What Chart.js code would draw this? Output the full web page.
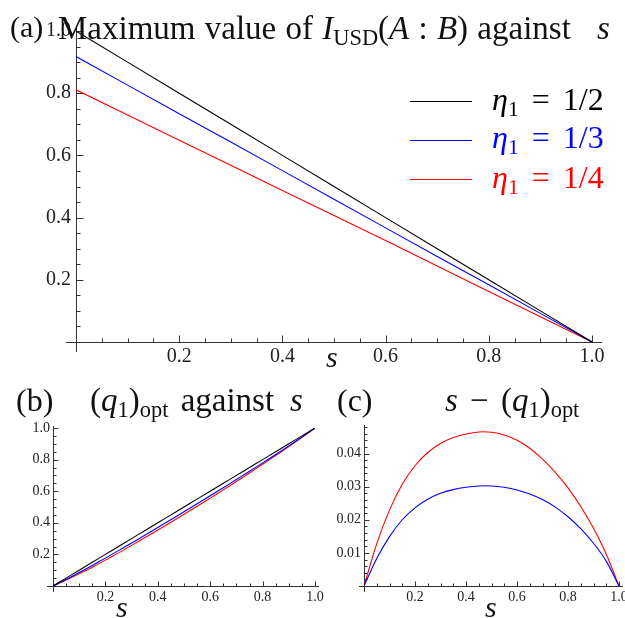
<!DOCTYPE html>
<html>
<head>
<meta charset="utf-8">
<script src="https://cdn.jsdelivr.net/npm/chart.js@4.4.1/dist/chart.umd.min.js"></script>
<style>
  html, body { margin: 0; padding: 0; background: #fff; }
  body { width: 625px; height: 618px; position: relative; overflow: hidden; font-family: "Liberation Serif", serif; color: #111; }
  canvas { position: absolute; }
  .txt { position: absolute; line-height: 1; white-space: nowrap; }
  .txt i { font-style: italic; }
  .txt sub { font-size: 0.68em; vertical-align: -0.28em; line-height: 0; }
  .leg-line { position: absolute; height: 0; border-top: 1px solid; width: 62px; }
</style>
</head>
<body>
<canvas id="chartA" width="625" height="375" style="left:0px;top:0px"></canvas>
<canvas id="chartB" width="335" height="243" style="left:0px;top:375px"></canvas>
<canvas id="chartC" width="320" height="243" style="left:320px;top:375px"></canvas>

<div class="txt" style="left:10px;top:12px;font-size:30px">(a)</div>
<div class="txt" style="left:58px;top:12px;font-size:33px;word-spacing:1px">Maximum value of <i>I</i><sub>USD</sub>(<i>A</i> : <i>B</i>) against</div>
<div class="txt" style="left:597px;top:12px;font-size:33px"><i>s</i></div>
<div class="txt" style="left:326px;top:342px;font-size:30px"><i>s</i></div>

<div class="leg-line" style="left:410px;top:101px;border-color:#000"></div>
<div class="leg-line" style="left:410px;top:140px;border-color:#0000ff"></div>
<div class="leg-line" style="left:410px;top:179px;border-color:#ff0000"></div>
<div class="txt" id="leg0" style="left:492px;top:83px;font-size:32px;word-spacing:5px;color:#000"></div>
<div class="txt" id="leg1" style="left:492px;top:121px;font-size:32px;word-spacing:5px;color:#0000ff"></div>
<div class="txt" id="leg2" style="left:492px;top:161px;font-size:32px;word-spacing:5px;color:#ff0000"></div>

<div class="txt" style="left:16px;top:384px;font-size:32px">(b)</div>
<div class="txt" style="left:90px;top:384px;font-size:33px;word-spacing:4px">(<i>q</i><sub>1</sub>)<sub>opt</sub> against</div>
<div class="txt" style="left:290px;top:384px;font-size:33px"><i>s</i></div>
<div class="txt" style="left:116px;top:592px;font-size:30px"><i>s</i></div>

<div class="txt" style="left:337px;top:384px;font-size:32px">(c)</div>
<div class="txt" style="left:445px;top:384px;font-size:33px;word-spacing:4px"><i>s</i> − (<i>q</i><sub>1</sub>)<sub>opt</sub></div>
<div class="txt" style="left:485px;top:592px;font-size:30px"><i>s</i></div>

<script>
// panel (a): maximum of I_USD(A:B) against s
const sA = [0, 0.1, 0.2, 0.3, 0.4, 0.5, 0.6, 0.7, 0.8, 0.9, 1.0];
const iusd12 = [1.000, 0.900, 0.800, 0.700, 0.600, 0.500, 0.400, 0.300, 0.200, 0.100, 0];
const iusd13 = [0.918, 0.826, 0.734, 0.643, 0.551, 0.459, 0.367, 0.275, 0.184, 0.092, 0];
const iusd14 = [0.811, 0.730, 0.649, 0.568, 0.487, 0.407, 0.326, 0.244, 0.162, 0.081, 0];

// panel (b): (q1)opt against s
const sB = [0, 0.05, 0.1, 0.15, 0.2, 0.25, 0.3, 0.35, 0.4, 0.45, 0.5, 0.55, 0.6, 0.65, 0.7, 0.75, 0.8, 0.85, 0.9, 0.95, 1.0];
const q12 = [0, 0.05, 0.1, 0.15, 0.2, 0.25, 0.3, 0.35, 0.4, 0.45, 0.5, 0.55, 0.6, 0.65, 0.7, 0.75, 0.8, 0.85, 0.9, 0.95, 1.0];
const q13 = [0, 0.0417, 0.0851, 0.1300, 0.1764, 0.2238, 0.2720, 0.3209, 0.3702, 0.4198, 0.4698, 0.5202, 0.5710, 0.6222, 0.6739, 0.7262, 0.7791, 0.8327, 0.8871, 0.9425, 1.0];
const q14 = [0, 0.0372, 0.0771, 0.1193, 0.1637, 0.2097, 0.2570, 0.3052, 0.3541, 0.4035, 0.4536, 0.5044, 0.5560, 0.6084, 0.6617, 0.7157, 0.7704, 0.8260, 0.8826, 0.9404, 1.0];

// panel (c): s - (q1)opt
const diff13 = [0, 0.0083, 0.0149, 0.0200, 0.0236, 0.0262, 0.0280, 0.0291, 0.0298, 0.0302, 0.0302, 0.0298, 0.0290, 0.0278, 0.0261, 0.0238, 0.0209, 0.0173, 0.0129, 0.0075, 0];
const diff14 = [0, 0.0128, 0.0229, 0.0307, 0.0363, 0.0403, 0.0430, 0.0448, 0.0459, 0.0465, 0.0464, 0.0456, 0.0440, 0.0416, 0.0383, 0.0343, 0.0296, 0.0240, 0.0174, 0.0096, 0];

const legendLabels = ['<i>η</i><sub>1</sub> = 1/2', '<i>η</i><sub>1</sub> = 1/3', '<i>η</i><sub>1</sub> = 1/4'];
const colors = ['#000000', '#0000ff', '#ff0000'];

const xTicks = [0.2, 0.4, 0.6, 0.8, 1.0];
const yTicksA = [0.2, 0.4, 0.6, 0.8, 1.0];
const yTicksB = [0.2, 0.4, 0.6, 0.8, 1.0];
const yTicksC = [0.01, 0.02, 0.03, 0.04];

legendLabels.forEach((t, i) => { document.getElementById('leg' + i).innerHTML = t; });

// Mathematica style axes: crossing at origin, ticks pointing inward
const mmaAxes = {
	id: 'mmaAxes',
	beforeDatasetsDraw(chart, args, o) {
		const ctx = chart.ctx;
		const x = chart.scales.x, y = chart.scales.y;
		const px = v => Math.round(x.getPixelForValue(v)) + 0.5;
		const py = v => Math.round(y.getPixelForValue(v)) + 0.5;
		const x0 = px(0), y0 = py(0);
		ctx.save();
		ctx.strokeStyle = '#333';
		ctx.lineWidth = 1;
		ctx.beginPath();
		ctx.moveTo(x.left - o.extL, y0);
		ctx.lineTo(x.right + o.extR, y0);
		ctx.moveTo(x0, y.bottom + o.extB);
		ctx.lineTo(x0, y.top - o.extT);
		// x ticks
		for (let i = 1; i <= o.xN; i++) {
			const len = i % o.xMajor == 0 ? o.major : o.minor;
			const p = px(i * o.xStep);
			ctx.moveTo(p, y0);
			ctx.lineTo(p, y0 - len);
		}
		// y ticks
		for (let i = 1; i <= o.yN; i++) {
			const len = i % o.yMajor == 0 ? o.major : o.minor;
			const p = py(i * o.yStep);
			ctx.moveTo(x0, p);
			ctx.lineTo(x0 + len, p);
		}
		ctx.stroke();
		ctx.restore();
	}
};

const toPts = (xs, ys) => xs.map((v, i) => ({ x: v, y: ys[i] }));

function makeChart(id, sets, cfg) {
	const tickFont = { family: 'Liberation Serif', size: cfg.fontSize };
	return new Chart(document.getElementById(id), {
		type: 'line',
		data: {
			datasets: sets.map(d => ({
				data: d.data,
				borderColor: d.color,
				borderWidth: 1.1,
				pointRadius: 0,
				fill: false,
				tension: cfg.tension
			}))
		},
		options: {
			responsive: false,
			animation: false,
			devicePixelRatio: 1,
			layout: { padding: cfg.padding },
			plugins: {
				legend: { display: false },
				tooltip: { enabled: false },
				mmaAxes: cfg.axes
			},
			scales: {
				x: {
					type: 'linear', min: 0, max: 1,
					grid: { display: false, drawTicks: false },
					border: { display: false },
					afterBuildTicks: s => { s.ticks = xTicks.map(v => ({ value: v })); },
					afterFit: s => { s.height = cfg.xHeight; },
					ticks: { font: tickFont, color: '#222', padding: cfg.xPad, maxRotation: 0, callback: v => v.toFixed(1) }
				},
				y: {
					type: 'linear', min: 0, max: cfg.yMax,
					grid: { display: false, drawTicks: false },
					border: { display: false },
					afterBuildTicks: s => { s.ticks = cfg.yTicks.map(v => ({ value: v })); },
					afterFit: s => { s.width = cfg.yWidth; },
					ticks: { font: tickFont, color: '#222', padding: cfg.yPad, callback: v => v.toFixed(cfg.dec) }
				}
			}
		},
		plugins: [mmaAxes]
	});
}

makeChart('chartA', [
	{ data: toPts(sA, iusd12), color: colors[0] },
	{ data: toPts(sA, iusd13), color: colors[1] },
	{ data: toPts(sA, iusd14), color: colors[2] }
], {
	padding: { left: 0, top: 31, right: 33, bottom: 0 },
	xHeight: 33, yWidth: 76, yMax: 1.0, yTicks: yTicksA, dec: 1,
	fontSize: 20, xPad: 3, yPad: 5, tension: 0,
	axes: { extL: 10, extR: 10, extB: 10, extT: 3, xStep: 0.05, xN: 20, xMajor: 4, yStep: 0.05, yN: 20, yMajor: 4, major: 7, minor: 4 }
});

makeChart('chartB', [
	{ data: toPts(sB, q12), color: colors[0] },
	{ data: toPts(sB, q13), color: colors[1] },
	{ data: toPts(sB, q14), color: colors[2] }
], {
	padding: { left: 0, top: 53, right: 20, bottom: 0 },
	xHeight: 32, yWidth: 53, yMax: 1.0, yTicks: yTicksB, dec: 1,
	fontSize: 14, xPad: 3, yPad: 3, tension: 0.3,
	axes: { extL: 6, extR: 4, extB: 6, extT: 2, xStep: 0.05, xN: 20, xMajor: 4, yStep: 0.05, yN: 20, yMajor: 4, major: 5, minor: 3 }
});

makeChart('chartC', [
	{ data: toPts(sB, diff13), color: colors[1] },
	{ data: toPts(sB, diff14), color: colors[2] }
], {
	padding: { left: 0, top: 52, right: 21, bottom: 0 },
	xHeight: 32, yWidth: 44, yMax: 0.048, yTicks: yTicksC, dec: 2,
	fontSize: 14, xPad: 3, yPad: 3, tension: 0.3,
	axes: { extL: 5, extR: 4, extB: 6, extT: 2, xStep: 0.05, xN: 20, xMajor: 4, yStep: 0.002, yN: 24, yMajor: 5, major: 5, minor: 3 }
});
</script>
</body>
</html>
